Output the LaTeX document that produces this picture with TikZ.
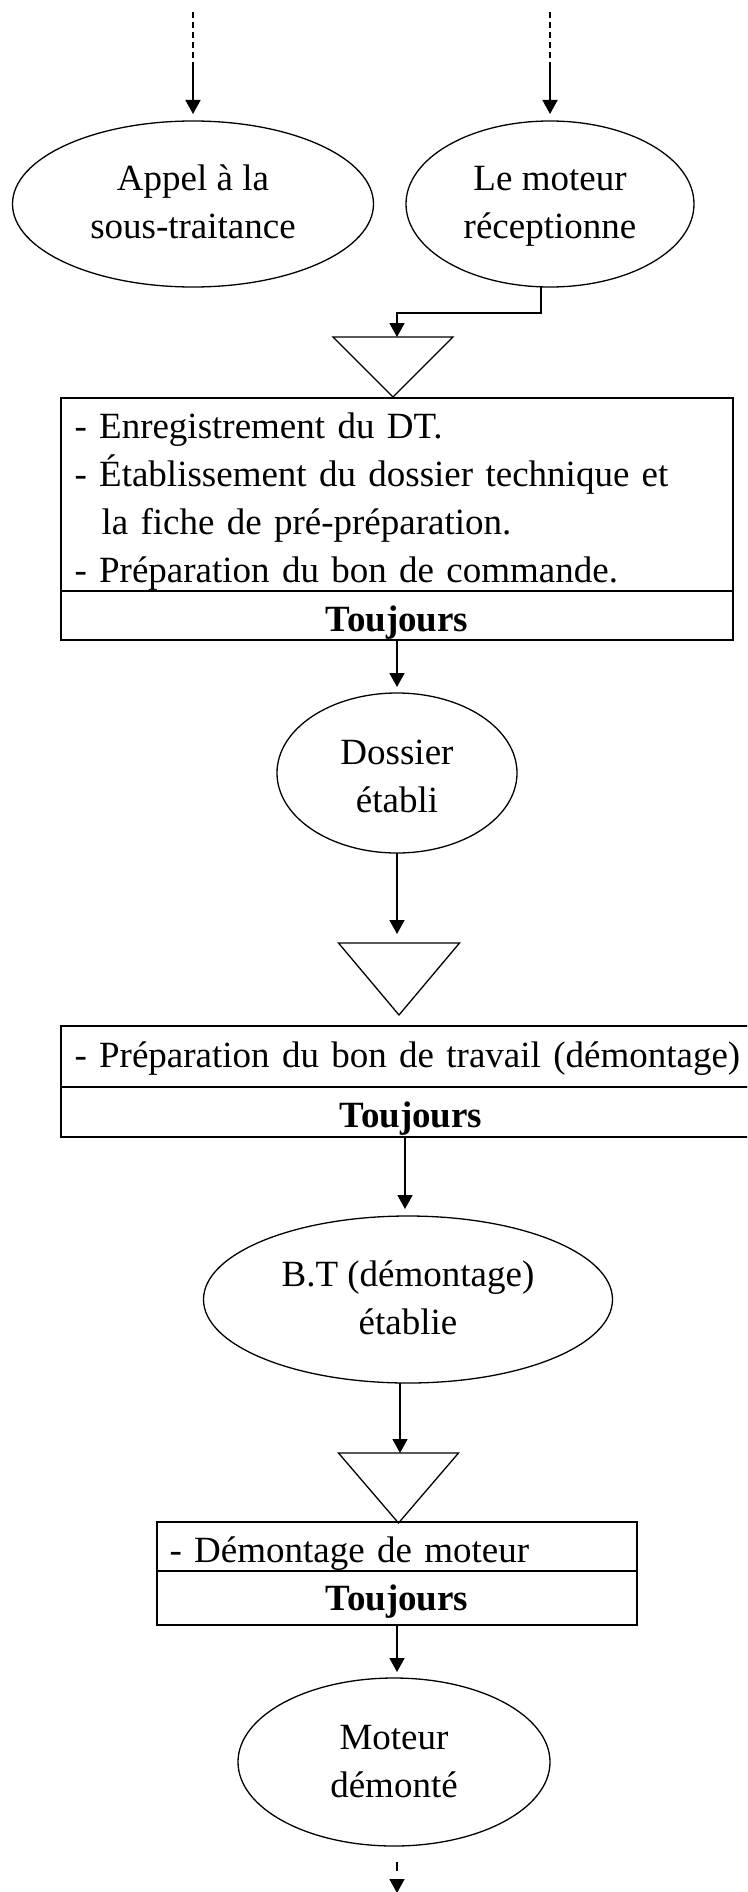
\documentclass[tikz,border=0pt]{standalone}
\usepackage{fontspec}
\setmainfont{Liberation Serif}
\usetikzlibrary{shapes.geometric, arrows.meta}

% invisible strut: height #1, depth #2 (in pt)
\newcommand\rs[2]{\rule[-#2pt]{0pt}{\dimexpr #1pt + #2pt\relax}}

\begin{document}
\begin{tikzpicture}[x=1pt, y=-1pt,
  every node/.style={font=\fontsize{37}{48}\selectfont, inner sep=0pt, outer sep=0pt},
  oval/.style={ellipse, draw, line width=1.3pt, align=center},
  upbox/.style={rectangle, draw, line width=1.8pt, align=left, anchor=north west},
  lowbox/.style={rectangle, draw, line width=1.8pt, anchor=north west,
                 font=\fontsize{37}{48}\selectfont\bfseries},
  tri/.style={draw, line width=1.3pt, line join=miter},
  flow/.style={line width=1.7pt, -{Triangle[length=14pt,width=15pt]}},
  lead/.style={line width=1.7pt, dash pattern=on 6pt off 4pt},
]
\useasboundingbox (0,0) rectangle (747,1892);
\clip (0,0) rectangle (747,1892);

% ---- entry events ----
\node[oval, minimum width=361pt, minimum height=166pt] (appel) at (193,204)
  {\rs{30}{9}Appel à la\\\rs{30}{9}sous-traitance};
\node[oval, minimum width=288pt, minimum height=166pt] (recv) at (550,204)
  {\rs{30}{9}Le moteur\\\rs{30}{9}réceptionne};

\coordinate (top1) at (193,12);
\coordinate (mid1) at (193,63);
\coordinate (top2) at (550,12);
\coordinate (mid2) at (550,63);
\draw[lead] (top1) -- (mid1);
\draw[lead] (top2) -- (mid2);
\draw[flow, shorten >=7pt] (mid1) -- (appel);
\draw[flow, shorten >=7pt] (mid2) -- (recv);

% ---- step 1: file registration ----
\coordinate (tri1) at (393,337);
\draw[tri] (tri1) ++(-60,0) -- ++(120,0) -- ++(-60,60) -- cycle;
\draw[flow] ([xshift=-9pt]recv.south) -- ++(0,26) -| ([xshift=4pt]tri1);

\node[upbox, minimum width=672pt, minimum height=193pt, text width=645pt,
      inner xsep=13.5pt] (box1up) at (61,398)
  {\rs{39.3}{8.3}- Enregistrement du DT.\\
   \rs{39.3}{8.3}- Établissement du dossier technique et\\
   \rs{39.3}{8.3}\hspace*{27pt}la fiche de pré-préparation.\\
   \rs{39.3}{8.3}- Préparation du bon de commande.};
\node[lowbox, minimum width=672pt, minimum height=49pt,
      text height=40pt, text depth=9pt] (box1low) at (box1up.south west) {Toujours};

\node[oval, minimum width=240pt, minimum height=160pt] (dossier) at (397,773)
  {\rs{39.3}{8.3}Dossier\\\rs{39.3}{8.3}établi};
\draw[flow, shorten >=6pt] (box1low.south) -- (box1low.south |- dossier.north);

% ---- step 2: work order ----
\coordinate (tri2) at (398.5,943);
\draw[tri] (tri2) ++(-60,0) -- ++(121,0) -- ++(-60.5,72) -- cycle;
\draw[flow, shorten >=9pt] (dossier.south) -- (dossier.south |- tri2);

\node[upbox, minimum width=700pt, minimum height=61pt, text width=673pt,
      inner xsep=13.5pt, text height=30pt, text depth=9pt] (box2up) at (61,1026)
  {- Préparation du bon de travail (démontage)};
\node[lowbox, minimum width=700pt, minimum height=50pt,
      text height=40pt, text depth=9pt] (box2low) at (box2up.south west) {Toujours};

\node[oval, minimum width=409pt, minimum height=167pt] (bt) at (408,1299.5)
  {\rs{30}{9}B.T (démontage)\\\rs{30}{9}établie};
\draw[flow, shorten >=7pt] ([xshift=-3pt]bt.north |- box2low.south) -- ([xshift=-3pt]bt.north);

% ---- step 3: disassembly ----
\coordinate (tri3) at (398.5,1453);
\draw[tri] (tri3) ++(-60,0) -- ++(120,0) -- ++(-60,70) -- cycle;
\draw[flow] ([xshift=1.5pt]tri3 |- bt.south) -- ([xshift=1.5pt]tri3);

\node[upbox, minimum width=480pt, minimum height=49pt, text width=454.8pt,
      inner xsep=12.6pt, text height=40pt, text depth=9pt] (box3up) at (157,1522)
  {- Démontage de moteur};
\node[lowbox, minimum width=480pt, minimum height=54pt,
      text height=33pt, text depth=9pt] (box3low) at (box3up.south west) {Toujours};

\node[oval, minimum width=312pt, minimum height=168pt] (moteur) at (394,1762)
  {\rs{32}{9}Moteur\\\rs{32}{9}démonté};
\draw[flow, shorten >=6pt] (box3low.south) -- (box3low.south |- moteur.north);

\coordinate (out) at (397,1893);
\draw[flow, dash pattern=on 9pt off 9pt, shorten <=16pt] (out |- moteur.south) -- (out);
\end{tikzpicture}
\end{document}
